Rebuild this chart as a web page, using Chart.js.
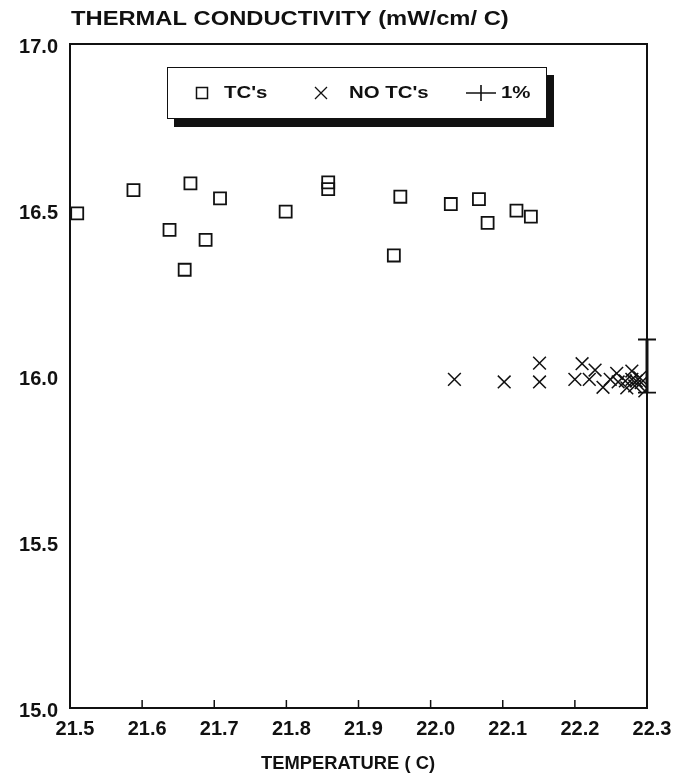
<!DOCTYPE html>
<html>
<head>
<meta charset="utf-8">
<script src="https://cdn.jsdelivr.net/npm/chart.js@4.4.1/dist/chart.umd.min.js"></script>
<style>
  html, body { margin: 0; padding: 0; background: #fff; }
  #wrap { position: relative; width: 693px; height: 777px; }
  #legendBox {
    position: absolute; left: 167px; top: 67px; width: 378px; height: 50px;
    border: 1.5px solid #111; background: #fff; box-shadow: 7px 8px 0 #111;
    font: bold 17px "Liberation Sans", Arial, sans-serif; color: #111;
  }
  #legendBox svg, #legendBox span { position: absolute; }
  #legendBox span { top: 15px; transform: scaleX(1.2); transform-origin: left center; line-height: 20px; }
</style>
</head>
<body>
<div id="wrap">
  <canvas id="chart" width="693" height="777"></canvas>
  <div id="legendBox">
    <svg style="left:27px;top:18px" width="14" height="14"><rect x="1.5" y="1.5" width="11" height="11" fill="none" stroke="#111" stroke-width="1.5"/></svg>
    <span style="left:56px">TC's</span>
    <svg style="left:146px;top:18px" width="14" height="14"><path d="M1 1L13 13M13 1L1 13" stroke="#111" stroke-width="1.3"/></svg>
    <span style="left:181px">NO TC's</span>
    <svg style="left:298px;top:16px" width="30" height="18"><path d="M0 9H30M15 1V17" stroke="#111" stroke-width="1.6"/></svg>
    <span style="left:333px">1%</span>
  </div>
</div>
<script>
// Data
const xTicks = [21.5, 21.6, 21.7, 21.8, 21.9, 22.0, 22.1, 22.2, 22.3];
const yTicks = [15.0, 15.5, 16.0, 16.5, 17.0];

// TC's (squares)
const tcTemp = [21.51, 21.588, 21.667, 21.708, 21.638, 21.688, 21.659, 21.799, 21.858, 21.858,
                21.958, 21.949, 22.028, 22.067, 22.079, 22.119, 22.139];
const tcK = [16.49, 16.56, 16.58, 16.535, 16.44, 16.41, 16.32, 16.495, 16.583, 16.563,
             16.54, 16.363, 16.518, 16.533, 16.461, 16.498, 16.48];

// NO TC's (crosses)
const noTemp = [22.033, 22.102, 22.151, 22.151, 22.21, 22.2, 22.228, 22.22, 22.239, 22.249,
                22.258, 22.26, 22.272, 22.279, 22.279, 22.283, 22.29, 22.292, 22.297, 22.27, 22.285];
const noK = [15.99, 15.982, 16.039, 15.982, 16.037, 15.99, 16.018, 15.99, 15.966, 15.99,
             16.008, 15.982, 15.964, 16.015, 15.99, 15.97, 15.995, 15.98, 15.955, 15.985, 15.985];

// 1% error bar
const errTemp = [22.3];
const errLow = [15.95];
const errHigh = [16.11];

const FONT = "'Liberation Sans', Arial, sans-serif";
const tickFont = { family: FONT, size: 20, weight: "bold" };

function toPoints(xs, ys) {
  return xs.map((x, i) => ({ x: x, y: ys[i] }));
}

function wideText(ctx, text, x, y, sx) {
  ctx.save();
  ctx.translate(x, y);
  ctx.scale(sx, 1);
  ctx.fillText(text, 0, 0);
  ctx.restore();
}

// frame, inward x ticks, error bar and titles
const decor = {
  id: "decor",
  afterDatasetsDraw(chart) {
    const { ctx, chartArea: a, scales } = chart;
    ctx.save();
    ctx.strokeStyle = "#111";
    ctx.lineWidth = 2;
    ctx.strokeRect(a.left, a.top, a.right - a.left, a.bottom - a.top);

    ctx.lineWidth = 1.5;
    xTicks.slice(1, -1).forEach(v => {
      const px = scales.x.getPixelForValue(v);
      ctx.beginPath();
      ctx.moveTo(px, a.bottom);
      ctx.lineTo(px, a.bottom - 8);
      ctx.stroke();
    });

    errTemp.forEach((t, i) => {
      const px = scales.x.getPixelForValue(t);
      const lo = scales.y.getPixelForValue(errLow[i]);
      const hi = scales.y.getPixelForValue(errHigh[i]);
      ctx.lineWidth = 3;
      ctx.beginPath();
      ctx.moveTo(px, hi);
      ctx.lineTo(px, lo);
      ctx.stroke();
      ctx.lineWidth = 1.8;
      ctx.beginPath();
      ctx.moveTo(px - 9, hi); ctx.lineTo(px + 9, hi);
      ctx.moveTo(px - 9, lo); ctx.lineTo(px + 9, lo);
      ctx.stroke();
    });

    ctx.fillStyle = "#111";
    ctx.textBaseline = "middle";
    ctx.font = "bold 21px " + FONT;
    ctx.textAlign = "left";
    wideText(ctx, "THERMAL CONDUCTIVITY (mW/cm/ C)", a.left + 1, 19, 1.13);
    ctx.font = "bold 18px " + FONT;
    ctx.textAlign = "center";
    wideText(ctx, "TEMPERATURE ( C)", 348, 764, 1.02);
    ctx.restore();
  }
};

new Chart(document.getElementById("chart"), {
  type: "scatter",
  data: {
    datasets: [
      {
        label: "TC's",
        data: toPoints(tcTemp, tcK),
        pointStyle: "rect",
        pointRadius: 8.5,
        borderColor: "#111",
        backgroundColor: "rgba(0,0,0,0)",
        borderWidth: 1.8
      },
      {
        label: "NO TC's",
        data: toPoints(noTemp, noK),
        pointStyle: "crossRot",
        pointRadius: 9,
        borderColor: "#111",
        borderWidth: 1.5
      }
    ]
  },
  plugins: [decor],
  options: {
    responsive: false,
    animation: false,
    devicePixelRatio: 1,
    layout: { padding: { left: 0, right: 46, top: 44, bottom: 0 } },
    plugins: { legend: { display: false }, tooltip: { enabled: false } },
    scales: {
      x: {
        type: "linear",
        min: 21.5,
        max: 22.3,
        afterBuildTicks: s => { s.ticks = xTicks.map(v => ({ value: v })); },
        afterFit: s => { s.height = 69; },
        grid: { display: false, tickLength: 0 },
        border: { display: false },
        ticks: {
          font: tickFont, color: "#111", padding: 9, labelOffset: 5,
          maxRotation: 0, autoSkip: false,
          callback: v => v.toFixed(1)
        }
      },
      y: {
        type: "linear",
        min: 15,
        max: 17,
        afterBuildTicks: s => { s.ticks = yTicks.map(v => ({ value: v })); },
        afterFit: s => { s.width = 70; },
        grid: { display: false, tickLength: 0 },
        border: { display: false },
        ticks: {
          font: tickFont, color: "#111", padding: 12, labelOffset: 3,
          callback: v => v.toFixed(1)
        }
      }
    }
  }
});
</script>
</body>
</html>
